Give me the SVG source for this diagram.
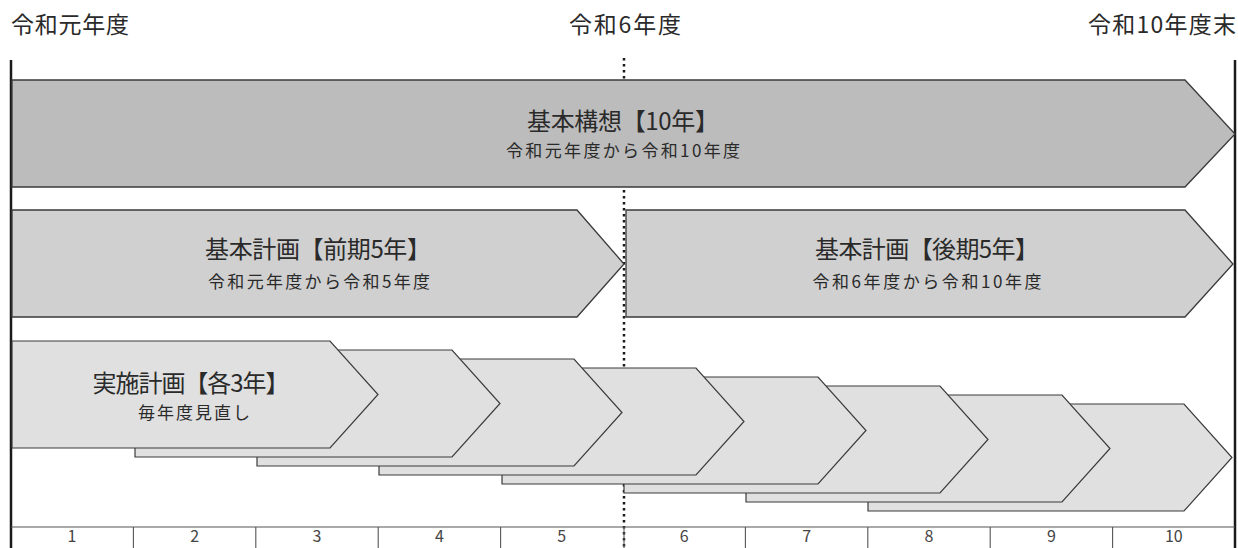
<svg xmlns="http://www.w3.org/2000/svg" width="1238" height="548" viewBox="0 0 1238 548">
<style>
text{font-family:"Noto Sans CJK JP","Noto Sans",sans-serif;fill:#2a2a2a}
.hdr{font-size:23px}
.ttl{font-size:24px;text-anchor:middle}
.sub{font-size:17px;text-anchor:middle}
.num{font-size:16px;text-anchor:middle;fill:#444}
.a1{fill:#bcbcbc;stroke:#3a3a3a;stroke-width:1.3}
.a2{fill:#d0d0d0;stroke:#3a3a3a;stroke-width:1.3}
.a3{fill:#e0e0e0;stroke:#3a3a3a;stroke-width:1.2}
.edge{stroke:#1a1a1a;stroke-width:2.5}
.tick{stroke:#555;stroke-width:1.1}
.dot{stroke:#1a1a1a;stroke-width:2.5;stroke-dasharray:2.5 3.5}
</style>
<rect width="1238" height="548" fill="#ffffff"/>
<g id="guides">
<line class="dot" x1="624" y1="58" x2="624" y2="548"/>
<line class="edge" x1="11" y1="60" x2="11" y2="548"/>
<line class="edge" x1="1235" y1="60" x2="1235" y2="548"/>
<line class="tick" x1="11" y1="527" x2="1235" y2="527"/>
</g>
<g id="headers">
<text class="hdr" x="11" y="33" textLength="118" lengthAdjust="spacing">令和元年度</text>
<text class="hdr" x="625" y="33" text-anchor="middle" textLength="112" lengthAdjust="spacing">令和6年度</text>
<text class="hdr" x="1236" y="33" text-anchor="end" textLength="148" lengthAdjust="spacing">令和10年度末</text>
</g>
<g id="kihon-koso">
<polygon class="a1" points="12,80 1185,80 1235,134 1185,187 12,187"/>
<text class="ttl" x="623" y="130" textLength="192" lengthAdjust="spacing">基本構想【10年】</text>
<text class="sub" x="623" y="157" textLength="234" lengthAdjust="spacing">令和元年度から令和10年度</text>
</g>
<g id="kihon-keikaku-zenki">
<polygon class="a2" points="12,210 577,210 624,264 577,317 12,317"/>
<text class="ttl" x="318" y="258" textLength="226" lengthAdjust="spacing">基本計画【前期5年】</text>
<text class="sub" x="319" y="288" textLength="222" lengthAdjust="spacing">令和元年度から令和5年度</text>
</g>
<g id="kihon-keikaku-kouki">
<polygon class="a2" points="626,210 1185,210 1233,264 1185,317 626,317"/>
<text class="ttl" x="927" y="258" textLength="224" lengthAdjust="spacing">基本計画【後期5年】</text>
<text class="sub" x="927" y="288" textLength="229" lengthAdjust="spacing">令和6年度から令和10年度</text>
</g>
<g id="jisshi-8"><polygon class="a3" points="868,404 1184,404 1232,457.5 1184,511 868,511"/></g>
<g id="jisshi-7"><polygon class="a3" points="746,395 1062,395 1110,448.5 1062,502 746,502"/></g>
<g id="jisshi-6"><polygon class="a3" points="624,386 940,386 988,439.5 940,493 624,493"/></g>
<g id="jisshi-5"><polygon class="a3" points="502,377 818,377 866,430.5 818,484 502,484"/></g>
<g id="jisshi-4"><polygon class="a3" points="379,368 696,368 744,421.5 696,475 379,475"/></g>
<g id="jisshi-3"><polygon class="a3" points="257,359 574,359 622,412.5 574,466 257,466"/></g>
<g id="jisshi-2"><polygon class="a3" points="135,350 452,350 500,403.5 452,457 135,457"/></g>
<g id="jisshi-1">
<polygon class="a3" points="12,341 330,341 378,394.5 330,448 12,448"/>
<text class="ttl" x="191" y="392" textLength="197" lengthAdjust="spacing">実施計画【各3年】</text>
<text class="sub" x="194" y="419" textLength="112" lengthAdjust="spacing">毎年度見直し</text>
</g>
<g id="scale">
<line class="tick" x1="133.4" y1="527" x2="133.4" y2="548"/>
<line class="tick" x1="255.8" y1="527" x2="255.8" y2="548"/>
<line class="tick" x1="378.2" y1="527" x2="378.2" y2="548"/>
<line class="tick" x1="500.6" y1="527" x2="500.6" y2="548"/>
<line class="tick" x1="624" y1="527" x2="624" y2="548"/>
<line class="tick" x1="745.4" y1="527" x2="745.4" y2="548"/>
<line class="tick" x1="867.8" y1="527" x2="867.8" y2="548"/>
<line class="tick" x1="990.2" y1="527" x2="990.2" y2="548"/>
<line class="tick" x1="1112.6" y1="527" x2="1112.6" y2="548"/>
<text class="num" x="72" y="542">1</text>
<text class="num" x="194.6" y="542">2</text>
<text class="num" x="317" y="542">3</text>
<text class="num" x="439.4" y="542">4</text>
<text class="num" x="561.8" y="542">5</text>
<text class="num" x="684.2" y="542">6</text>
<text class="num" x="806.6" y="542">7</text>
<text class="num" x="929" y="542">8</text>
<text class="num" x="1051.4" y="542">9</text>
<text class="num" x="1173.8" y="542">10</text>
</g>
</svg>
